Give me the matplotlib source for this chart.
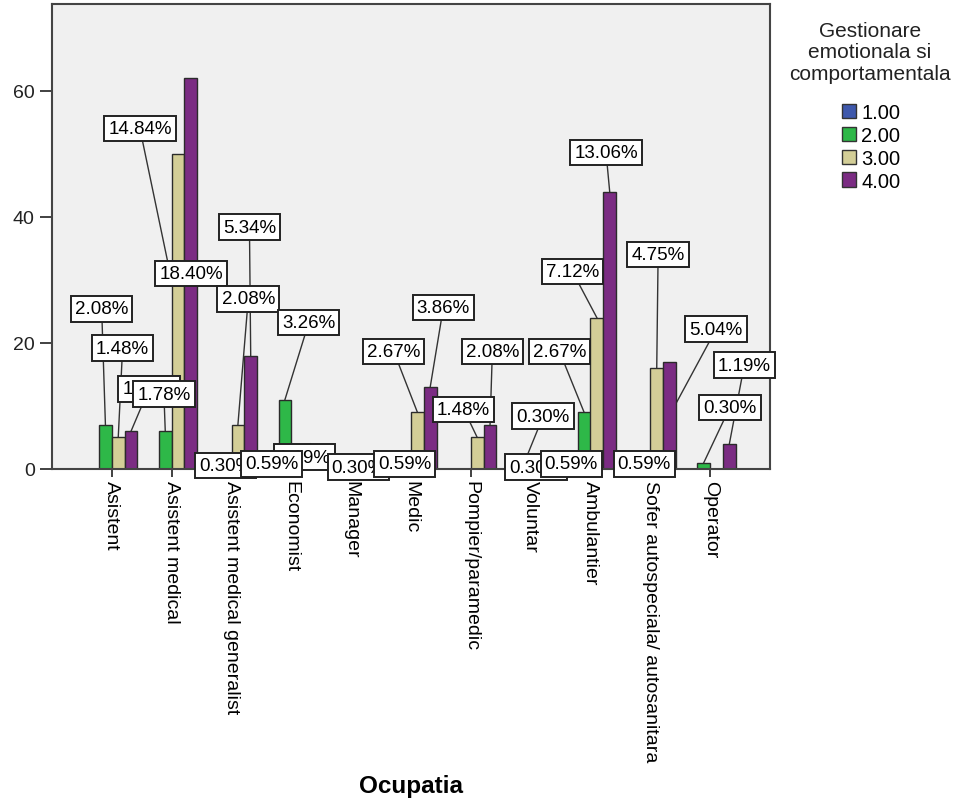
import matplotlib.pyplot as plt
import numpy as np
from matplotlib.patches import Patch, Rectangle

plt.rcParams['font.family'] = ['Liberation Sans', 'DejaVu Sans']

# date: numar de persoane pe ocupatie si nivel de gestionare
ocupatii = ['Asistent', 'Asistent medical', 'Asistent medical generalist',
            'Economist', 'Manager', 'Medic', 'Pompier/paramedic', 'Voluntar',
            'Ambulantier', 'Sofer autospeciala/ autosanitara', 'Operator']
niveluri = ['1.00', '2.00', '3.00', '4.00']
nivel_1 = [0, 0, 0, 0, 0, 0, 0, 1, 2, 0, 0]
nivel_2 = [7, 6, 1, 11, 1, 2, 0, 1, 9, 2, 1]
nivel_3 = [5, 50, 7, 2, 0, 9, 5, 0, 24, 16, 0]
nivel_4 = [6, 62, 18, 4, 0, 13, 7, 0, 44, 17, 4]

culori = ['#3e58ac', '#2eb848', '#d3ce97', '#7b2c83']

# pozitia etichetelor: (ocupatie, nivel) -> (dx, y, fractiune din bara pentru linie)
pozitii_etichete = {
    (0, 1): (-0.17, 25.4, 1), (0, 2): (0.18, 19.2, 1), (0, 3): (0.62, 12.7, 1),
    (1, 1): (-0.13, 11.9, 1), (1, 2): (-0.53, 54.0, 0.5), (1, 3): (0.33, 31.0, 0.5),
    (2, 1): (-0.10, 0.6, 1), (2, 2): (0.28, 27.0, 1), (2, 3): (0.30, 38.4, 1),
    (3, 1): (0.29, 23.2, 1), (3, 2): (-0.33, 0.8, 1), (3, 3): (0.22, 1.9, 1),
    (4, 1): (0.12, 0.3, 1),
    (5, 1): (-0.11, 0.8, 1), (5, 2): (-0.29, 18.7, 1), (5, 3): (0.54, 25.6, 1),
    (6, 2): (-0.12, 9.5, 1), (6, 3): (0.36, 18.7, 1),
    (7, 0): (0.09, 0.3, 1), (7, 1): (0.21, 8.4, 1),
    (8, 0): (-0.32, 0.8, 1), (8, 1): (-0.52, 18.7, 1), (8, 2): (-0.30, 31.3, 1),
    (8, 3): (0.26, 50.2, 1),
    (9, 1): (-0.10, 0.8, 1), (9, 2): (0.13, 34.0, 1), (9, 3): (1.10, 22.2, 0.5),
    (10, 1): (0.33, 9.8, 1), (10, 3): (0.57, 16.5, 1),
}

serii = [nivel_1, nivel_2, nivel_3, nivel_4]
total = sum(sum(s) for s in serii)

fig = plt.figure(figsize=(9.6, 8.03), dpi=100)
ax = fig.add_axes([52 / 960, 1 - 470 / 803, 718 / 960, 465 / 803])
ax.set_facecolor('#f0f0f0')

x = np.arange(len(ocupatii))
w = 0.214
dx_bare = (np.arange(4) - 1.5) * w

for i, s in enumerate(serii):
    ax.bar(x + dx_bare[i], s, w, color=culori[i], edgecolor='#2b2b2b',
           linewidth=1, zorder=2)

# zona in care se pot desena etichetele (iese putin sub axa)
zona = Rectangle((-1, -3), 12, 80, transform=ax.transData)

for c in range(len(ocupatii)):
    for i in [3, 2, 1, 0]:
        if (c, i) not in pozitii_etichete:
            continue
        n = serii[i][c]
        dx, y, frac = pozitii_etichete[(c, i)]
        bx = x[c] + dx_bare[i]
        lx = x[c] + dx
        ax.plot([bx, lx], [n * frac, y], color='#333333', lw=1, zorder=1.5)
        t = ax.text(lx, y, '%.2f%%' % (n / total * 100), ha='center',
                    va='center', fontsize=13.5, zorder=3,
                    bbox=dict(boxstyle='square,pad=0.22', fc='white',
                              ec='#222222', lw=1.4))
        t.set_clip_path(zona)

ax.set_xlim(-1, 11)
ax.set_ylim(0, 73.8)
ax.set_xticks(x)
ax.set_xticklabels(ocupatii, rotation=270, fontsize=14)
ax.set_yticks([0, 20, 40, 60])
ax.tick_params(axis='y', labelsize=14, length=9, width=1.3, color='#333333',
               labelcolor='#222222')
ax.tick_params(axis='x', length=6, width=1.3, color='#333333', pad=2)
for sp in ax.spines.values():
    sp.set_color('#444444')
    sp.set_linewidth(1.5)

fig.text(411 / 960, 1 - 787 / 803, 'Ocupatia', ha='center', va='center',
         fontsize=17.5, fontweight='bold')

# legenda: titlu centrat deasupra patratelor
fig.text(870 / 960, 1 - 53 / 803, 'Gestionare\nemotionala si\ncomportamentala',
         ha='center', va='center', multialignment='center', fontsize=15,
         linespacing=1.15, color='#222222')
handles = [Patch(facecolor=culori[i], edgecolor='#333333', label=niveluri[i])
           for i in range(4)]
fig.legend(handles=handles, loc='upper center',
           bbox_to_anchor=(871 / 960, 1 - 94 / 803),
           frameon=False, fontsize=14.5,
           handlelength=0.7, handleheight=0.7, handletextpad=0.25,
           labelspacing=0.19, borderpad=0)

fig.savefig('out.png', dpi=100)
